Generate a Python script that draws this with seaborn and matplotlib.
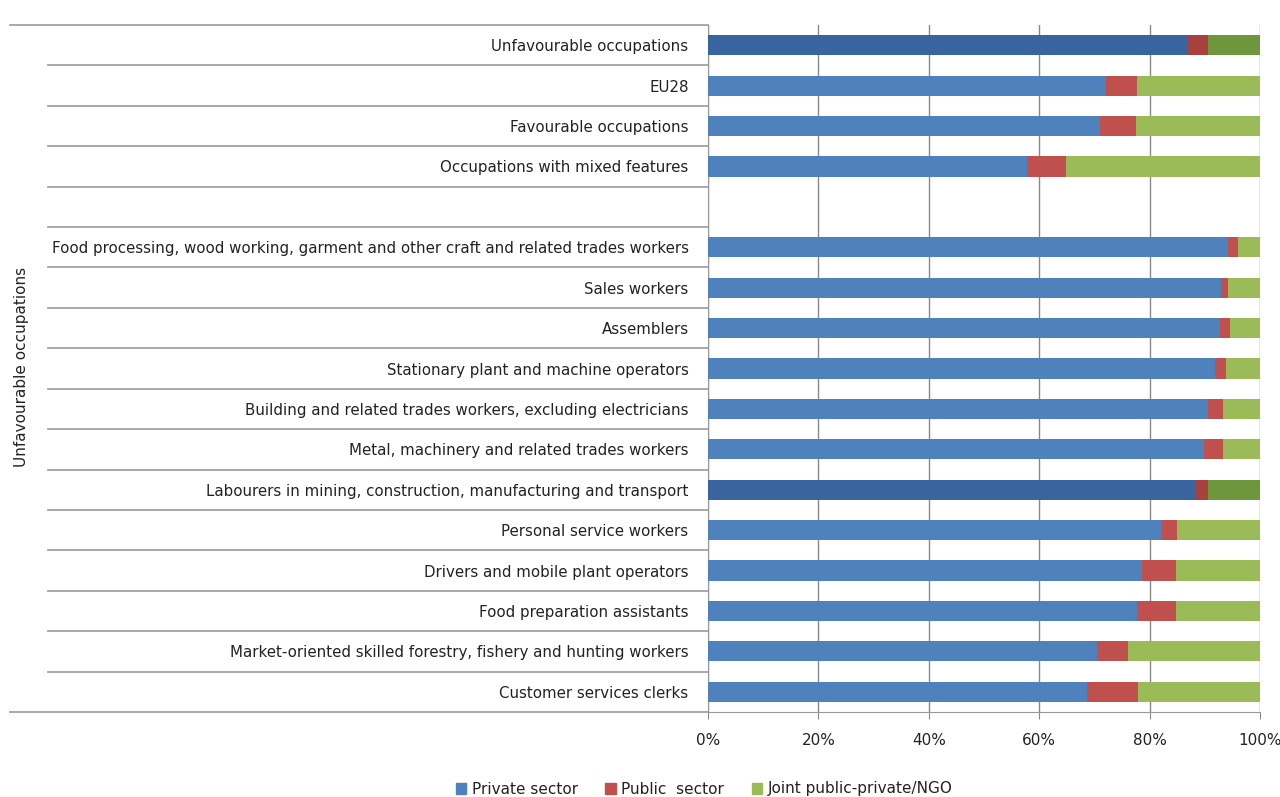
import numpy as np
import pandas as pd
import matplotlib.pyplot as plt
import seaborn as sns
from matplotlib.patches import Patch

categories = [
    'Unfavourable occupations',
    'EU28',
    'Favourable occupations',
    'Occupations with mixed features',
    '',
    'Food processing, wood working, garment and other craft and related trades workers',
    'Sales workers',
    'Assemblers',
    'Stationary plant and machine operators',
    'Building and related trades workers, excluding electricians',
    'Metal, machinery and related trades workers',
    'Labourers in mining, construction, manufacturing and transport',
    'Personal service workers',
    'Drivers and mobile plant operators',
    'Food preparation assistants',
    'Market-oriented skilled forestry, fishery and hunting workers',
    'Customer services clerks',
]
private = [87.0, 72.1, 71.0, 57.8, 0, 94.2, 93.0, 92.7, 91.9, 90.5, 89.9,
           88.3, 82.1, 78.7, 77.8, 70.4, 68.7]
public = [3.5, 5.6, 6.5, 7.1, 0, 1.8, 1.2, 1.8, 2.0, 2.8, 3.4,
          2.3, 2.9, 6.0, 7.0, 5.6, 9.2]
joint = [9.5, 22.3, 22.5, 35.1, 0, 4.0, 5.8, 5.5, 6.1, 6.7, 6.7,
         9.4, 15.0, 15.3, 15.2, 24.0, 22.1]
highlight = ['Unfavourable occupations',
             'Labourers in mining, construction, manufacturing and transport']

df = pd.DataFrame({'category': categories, 'private': private,
                   'public': public, 'joint': joint})
df['c1'] = df['private']
df['c2'] = df['private'] + df['public']
df['c3'] = df['c2'] + df['joint']

blue, red, green = '#4F81BD', '#C0504D', '#9BBB59'
dblue, dred, dgreen = '#3A64A0', '#A8403D', '#6E963C'

def pal(normal, dark):
    return {c: (dark if c in highlight else normal) for c in categories}

fig = plt.figure(figsize=(12.8, 7.97), dpi=100)
ax = fig.add_axes([708 / 1280, 1 - 712 / 797, 552 / 1280, 687 / 797])

for col, (n, d) in zip(['c3', 'c2', 'c1'], [(green, dgreen), (red, dred), (blue, dblue)]):
    sns.barplot(data=df, y='category', x=col, order=categories, hue='category',
                palette=pal(n, d), legend=False, width=0.5, ax=ax,
                edgecolor='none', saturation=1, zorder=3)

ax.set_xlim(0, 100)
ax.set_ylim(16.5, -0.5)
ax.set_xticks(np.arange(0, 101, 20))
ax.set_xticklabels([f'{v}%' for v in range(0, 101, 20)], fontsize=11, color='#222222')
ax.tick_params(axis='x', length=5, pad=10, color='#888888')
ax.tick_params(axis='y', length=0, pad=14, labelsize=10.8, labelcolor='#222222')
ax.set_xlabel('')
ax.set_ylabel('')
ax.grid(axis='x', color='#888888', lw=1, zorder=0)
ax.grid(axis='y', visible=False)
for s in ['top', 'right']:
    ax.spines[s].set_visible(False)
for s in ['left', 'bottom']:
    ax.spines[s].set_color('#999999')

# category table lines on the left
tr = ax.get_yaxis_transform()
x_in = (48 - 708) / 552
x_out = (10 - 708) / 552
for b in np.arange(-0.5, 17, 1):
    x0 = x_out if b in (-0.5, 16.5) else x_in
    ax.plot([x0, 0], [b, b], color='#999999', lw=1.2, transform=tr, clip_on=False)

fig.text(22 / 1280, 1 - 367 / 797, 'Unfavourable occupations', rotation=90,
         ha='center', va='center', fontsize=11, color='#222222')

handles = [Patch(color=blue, label='Private sector'),
           Patch(color=red, label='Public  sector'),
           Patch(color=green, label='Joint public-private/NGO')]
leg = fig.legend(handles=handles, loc='center', bbox_to_anchor=(704 / 1280, 1 - 789 / 797),
                 ncol=3, frameon=False, fontsize=11, handlelength=0.7, handleheight=0.7,
                 handletextpad=0.35, columnspacing=1.8)
for t in leg.get_texts():
    t.set_color('#222222')

fig.savefig('out.png', dpi=100)
